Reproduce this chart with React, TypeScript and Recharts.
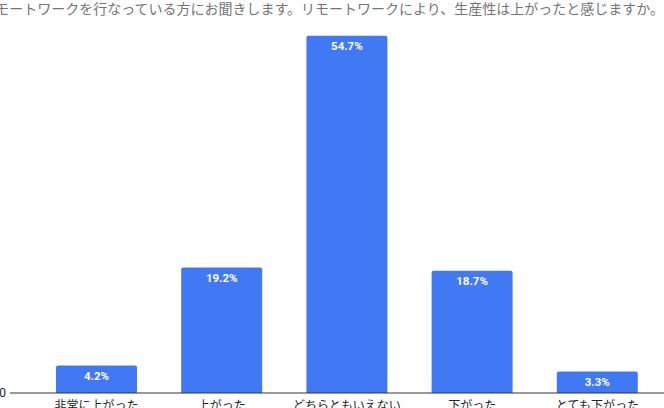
import { BarChart, Bar, XAxis, YAxis, LabelList } from 'recharts';

const categories = ['非常に上がった', '上がった', 'どちらともいえない', '下がった', 'とても下がった'];
const shares = [4.2, 19.2, 54.7, 18.7, 3.3];
const yTicks = [0];
const title = 'リモートワークを行なっている方にお聞きします。リモートワークにより、生産性は上がったと感じますか。';

const data = categories.map((name, i) => ({ name, value: shares[i] }));

const font = 'Roboto, "Noto Sans CJK JP", sans-serif';

export default function App() {
  return (
    <div style={{ position: 'absolute', left: 0, top: 0, width: 664, height: 408, overflow: 'hidden', background: '#fff', fontFamily: font }}>
      <div
        style={{
          position: 'absolute',
          right: 0,
          top: 1,
          whiteSpace: 'nowrap',
          fontSize: 14,
          color: '#757575',
          lineHeight: '16px',
        }}
      >
        {title}
      </div>
      <BarChart width={664} height={423} data={data} margin={{ top: 1, right: 0, bottom: 0, left: 0 }} barSize={81}>
        <XAxis
          dataKey="name"
          padding={{ left: 24, right: 4 }}
          tickLine={false}
          tickSize={0}
          tickMargin={8}
          height={30}
          axisLine={{ stroke: '#333' }}
          tick={{ fill: '#222', fontSize: 12, fontFamily: font }}
          interval={0}
        />
        <YAxis
          width={10}
          domain={[0, 60]}
          ticks={yTicks}
          axisLine={false}
          tickLine={false}
          tickSize={0}
          tickMargin={4}
          tick={{ fill: '#222', fontSize: 12, fontFamily: font }}
        />
        <Bar dataKey="value" fill="#4179f5" radius={[2, 2, 0, 0]} isAnimationActive={false}>
          <LabelList
            dataKey="value"
            position="insideTop"
            offset={6}
            formatter={(v: number) => `${v}%`}
            style={{ fill: '#fff', fontSize: 11.5, fontWeight: 700, fontFamily: font }}
          />
        </Bar>
      </BarChart>
    </div>
  );
}
